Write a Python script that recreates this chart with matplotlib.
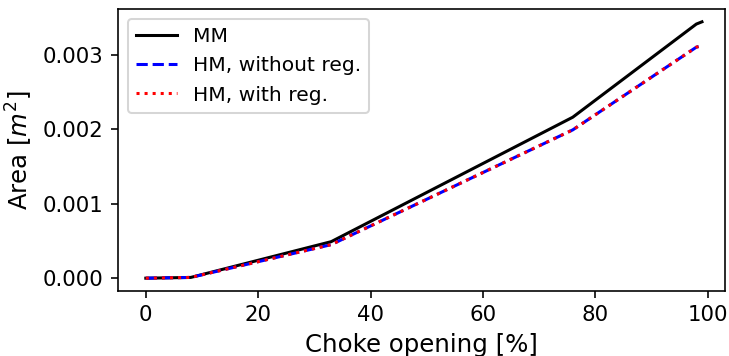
import matplotlib

matplotlib.use("Agg")
import matplotlib.pyplot as plt

# Choke opening [%] and flow areas [m^2]
opening = [0, 8, 33, 76, 98, 99]
area_mm = [0.0, 0.00001, 0.00049, 0.00216, 0.00341, 0.00344]
area_hm_noreg = [0.0, 0.00001, 0.00045, 0.00199, 0.00310, 0.00312]
area_hm_reg = [0.0, 0.00001, 0.00045, 0.00199, 0.00310, 0.00312]

dpi = 146
fig = plt.figure(figsize=(729 / dpi, 356 / dpi), dpi=dpi)
ax = fig.add_axes([118 / 729, 65 / 356, 607 / 729, 282 / 356])

ax.plot(opening, area_mm, "k-", label="MM")
ax.plot(opening, area_hm_noreg, "b--", label="HM, without reg.")
ax.plot(opening, area_hm_reg, "r:", label="HM, with reg.")

ax.set_xlim(-4.95, 103.1)
ax.set_xlabel("Choke opening [%]", fontsize=12)
ax.set_ylabel("Area [$m^2$]", fontsize=12)
ax.set_xticks([0, 20, 40, 60, 80, 100])
ax.set_yticks([0.0, 0.001, 0.002, 0.003])
ax.tick_params(labelsize=10.5)
ax.legend(loc="upper left")

fig.savefig("out.png", dpi=dpi)
